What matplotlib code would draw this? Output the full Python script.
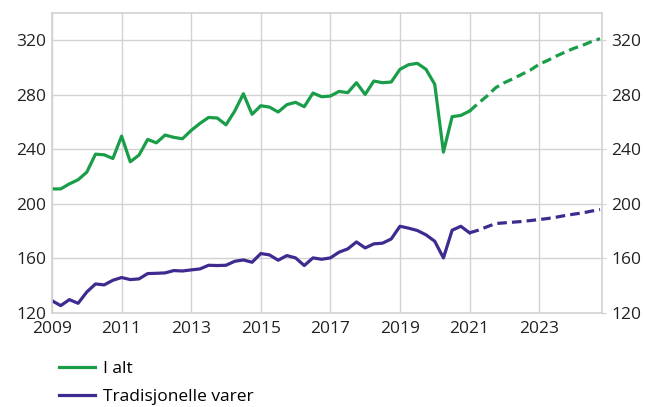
import numpy as np
import matplotlib
matplotlib.use("Agg")
import matplotlib.pyplot as plt

plt.rcParams['font.family'] = ['Open Sans', 'DejaVu Sans']

# kvartalsdata, 2009K1 - 2021K1 (faktisk)
x_faktisk = np.arange(2009, 2021.01, 0.25)
i_alt = [211, 211, 214.7, 217.7, 223.3, 236.5, 236, 233.3,
         249.7, 230.9, 235.8, 247.3, 244.8, 250.5, 248.8, 247.8,
         253.9, 259, 263.4, 263, 258, 268, 280.8, 265.7,
         272, 271, 267.4, 272.8, 274.5, 271.3, 281.3, 278.6,
         279.1, 282.5, 281.6, 288.9, 280.3, 290.1, 288.9, 289.4,
         298.7, 302.1, 303.1, 298.7, 287.7, 238, 264, 264.9,
         268.1]
trad = [129, 125.4, 129.8, 127.1, 135.4, 141.3, 140.6, 144,
        146, 144.5, 145, 148.9, 149.1, 149.4, 151.1, 150.8,
        151.6, 152.3, 155, 154.8, 155, 157.9, 158.9, 157.2,
        163.6, 162.6, 158.7, 162.1, 160.4, 154.8, 160.4, 159.4,
        160.4, 164.6, 167, 172.1, 167.7, 170.7, 171.2, 174.3,
        183.6, 182.2, 180.5, 177.3, 172.6, 160.4, 180.7, 183.6,
        178.8]

# framskrivning, 2021K1 - 2024K4
x_prog = np.arange(2021, 2024.76, 0.25)
i_alt_prog = [268.1, 273.7, 279.1, 285.2, 288.9, 291.8, 295, 298.2,
              302.4, 305.3, 308.5, 311.4, 314.1, 316.3, 319, 321.2]
trad_prog = [178.8, 180.7, 183.2, 185.6, 186.1, 186.6, 187.1, 187.8,
             188.5, 189.3, 190.3, 191.5, 192.5, 193.4, 194.7, 195.9]

x_ticks = [2009, 2011, 2013, 2015, 2017, 2019, 2021, 2023]
y_ticks = [120, 160, 200, 240, 280, 320]

gronn = '#1a9d49'
lilla = '#3f2a8f'
grid_farge = '#d2d2d2'
fs = 12.5

fig = plt.figure(figsize=(6.46, 4.07), dpi=100)
ax = fig.add_axes([0.0805, 0.231, 0.851, 0.737])

ax.plot(x_faktisk, i_alt, color=gronn, linewidth=2.3, label='I alt')
ax.plot(x_faktisk, trad, color=lilla, linewidth=2.3, label='Tradisjonelle varer')
ax.plot(x_prog, i_alt_prog, color=gronn, linewidth=2.3, linestyle=(0, (3, 1.6)))
ax.plot(x_prog, trad_prog, color=lilla, linewidth=2.3, linestyle=(0, (3, 1.6)))

ax.set_xlim(2009, 2024.8)
ax.set_ylim(120, 340)
ax.set_xticks(x_ticks)
ax.set_yticks(y_ticks)
ax.grid(True, color=grid_farge, linewidth=1)
ax.set_axisbelow(True)
for s in ax.spines.values():
    s.set_color(grid_farge)
    s.set_linewidth(1.2)
ax.tick_params(axis='both', length=0, labelsize=fs, colors='#222222', pad=4)
ax.tick_params(axis='x', pad=6)
for lab in ax.get_yticklabels():
    lab.set_verticalalignment('center_baseline')

ax2 = ax.twinx()
ax2.set_ylim(ax.get_ylim())
ax2.set_yticks(y_ticks)
ax2.tick_params(axis='y', length=3, color=grid_farge, labelsize=fs, labelcolor='#222222', pad=4)
for s in ax2.spines.values():
    s.set_visible(False)

h, l = ax.get_legend_handles_labels()
fig.legend(h, l, loc='upper left', bbox_to_anchor=(0.08, 0.13), frameon=False,
           fontsize=fs, handlelength=2.1, handletextpad=0.45, labelspacing=0.65,
           borderaxespad=0)

fig.savefig('out.png', dpi=100)
